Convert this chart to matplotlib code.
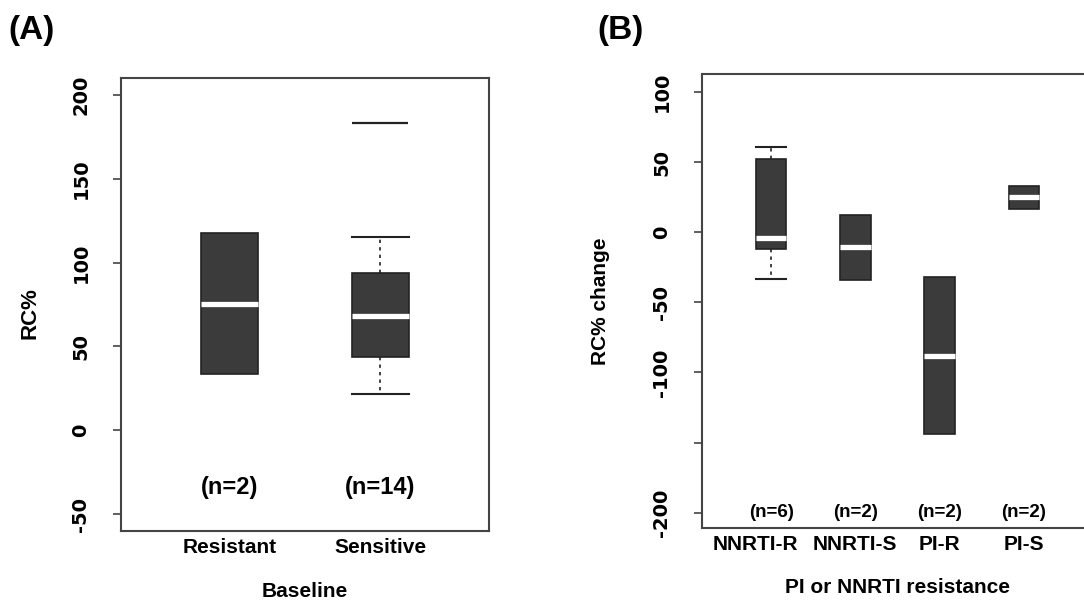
import matplotlib
matplotlib.use("Agg")
import matplotlib.pyplot as plt
import matplotlib.transforms as mtransforms

# panel A: baseline RC%
groupsA = ["Resistant", "Sensitive"]
nA = ["(n=2)", "(n=14)"]
q1A = [33.5, 44]
medA = [75, 68]
q3A = [117.5, 94]
loA = [33.5, 21.5]
hiA = [117.5, 115.5]
outA = [[], [183]]

# panel B: RC% change
groupsB = ["NNRTI-R", "NNRTI-S", "PI-R", "PI-S"]
nB = ["(n=6)", "(n=2)", "(n=2)", "(n=2)"]
q1B = [-12, -34, -144, 17]
medB = [-4, -10.5, -88, 25]
q3B = [52, 12.5, -32, 33]
loB = [-33, -34, -144, 17]
hiB = [61, 12.5, -32, 33]
outB = [[], [], [], []]

box_col = "#3b3b3b"
spine_col = "#444444"
lib = ["Liberation Sans", "DejaVu Sans"]


def stats_list(q1, med, q3, lo, hi, out):
    res = []
    for i in range(len(med)):
        res.append(dict(q1=q1[i], med=med[i], q3=q3[i], whislo=lo[i],
                        whishi=hi[i], fliers=out[i]))
    return res


def draw(ax, stats, labels, width, flier_ms):
    pos = list(range(1, len(stats) + 1))
    bp = ax.bxp(stats, positions=pos, widths=width, capwidths=width,
                patch_artist=True, showfliers=True,
                boxprops=dict(facecolor=box_col, edgecolor="#222222", linewidth=1.2),
                medianprops=dict(color="white", linewidth=3.8, solid_capstyle="butt"),
                whiskerprops=dict(color="#222222", linewidth=1.2, linestyle=(0, (2, 2.5))),
                capprops=dict(color="#222222", linewidth=1.5),
                flierprops=dict(marker="_", markersize=flier_ms,
                                markeredgewidth=1.6, markeredgecolor="#222222"))
    # no whisker caps when the whisker has no length
    for i, s in enumerate(stats):
        if s["whislo"] == s["q1"]:
            bp["caps"][2 * i].set_visible(False)
        if s["whishi"] == s["q3"]:
            bp["caps"][2 * i + 1].set_visible(False)
    ax.set_xticks(pos)
    ax.set_xticklabels(labels, fontsize=15, fontweight="bold", family=lib)
    ax.tick_params(axis="x", length=0, pad=5)
    ax.tick_params(axis="y", length=6, width=1.2, color=spine_col, pad=16)
    for lab in ax.get_yticklabels():
        lab.set_rotation(90)
        lab.set_va("center")
        lab.set_fontsize(14)
        lab.set_fontweight("bold")
    for sp in ax.spines.values():
        sp.set_color(spine_col)
        sp.set_linewidth(1.5)
    return pos


fig = plt.figure(figsize=(10.84, 6.01), dpi=100)

axA = fig.add_axes([0.1116, 0.1165, 0.3395, 0.7537])
axA.set_ylim(-60, 210)
axA.set_xlim(0.28, 2.72)
axA.set_yticks([-50, 0, 50, 100, 150, 200])
axA.set_yticklabels(["-50", "0", "50", "100", "150", "200"])
posA = draw(axA, stats_list(q1A, medA, q3A, loA, hiA, outA), groupsA, 0.38, 41)
for p, t in zip(posA, nA):
    axA.text(p, -34, t, ha="center", va="center", fontsize=17,
             fontweight="bold", family=lib)
axA.set_ylabel("RC%", fontsize=16, fontweight="bold", family=lib)
axA.yaxis.set_label_coords(-0.22, 0.48)
axA.set_xlabel("Baseline", fontsize=15, fontweight="bold", family=lib)
axA.xaxis.set_label_coords(0.5, -0.112)

axB = fig.add_axes([0.6476, 0.1215, 0.3607, 0.7554])
axB.set_ylim(-211, 113)
axB.set_xlim(0.18, 4.82)
axB.set_yticks([-200, -150, -100, -50, 0, 50, 100])
axB.set_yticklabels(["-200", "", "-100", "-50", "0", "50", "100"])
posB = draw(axB, stats_list(q1B, medB, q3B, loB, hiB, outB), groupsB, 0.36, 22)
for p, t in zip(posB, nB):
    axB.text(p, -200, t, ha="center", va="center", fontsize=13.5,
             fontweight="bold", family=lib)
# first category label sits a bit to the left in the original
shift = mtransforms.ScaledTranslation(-16 / 100, 0, fig.dpi_scale_trans)
lab0 = axB.get_xticklabels()[0]
lab0.set_transform(lab0.get_transform() + shift)
axB.set_ylabel("RC% change", fontsize=15, fontweight="bold", family=lib)
axB.yaxis.set_label_coords(-0.235, 0.5)
axB.set_xlabel("PI or NNRTI resistance", fontsize=15, fontweight="bold", family=lib)
axB.xaxis.set_label_coords(0.5, -0.11)

fig.text(0.008, 1 - 31 / 601, "(A)", fontsize=24, fontweight="bold", va="center", family=lib)
fig.text(0.551, 1 - 31 / 601, "(B)", fontsize=24, fontweight="bold", va="center", family=lib)

fig.savefig("out.png", dpi=100)
